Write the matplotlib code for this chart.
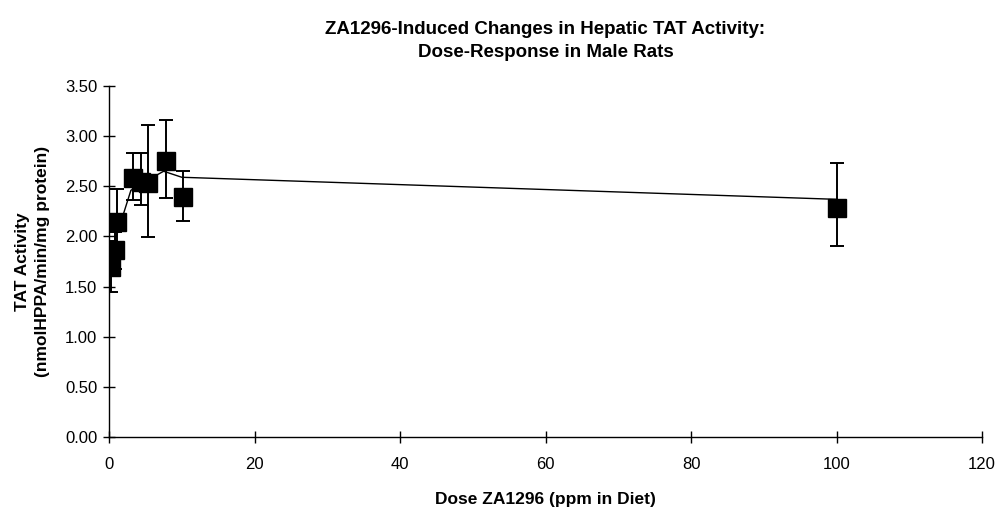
import matplotlib.pyplot as plt

plt.rcParams['font.family'] = ['Liberation Sans', 'DejaVu Sans']

# Group means with SD error bars
dose = [0.25, 0.8, 1.15, 3.3, 4.45, 5.35, 7.8, 10.2, 100]
tat_mean = [1.70, 1.86, 2.14, 2.58, 2.545, 2.53, 2.755, 2.39, 2.285]
tat_err_low = [0.25, 0.18, 0.33, 0.22, 0.235, 0.54, 0.375, 0.235, 0.385]
tat_err_high = [0.25, 0.18, 0.33, 0.255, 0.285, 0.58, 0.405, 0.26, 0.445]

# Connecting line through the dose groups
line_dose = [0, 0.5, 1, 3, 5, 7.5, 10, 100]
line_tat = [1.70, 1.86, 2.0, 2.46, 2.55, 2.65, 2.59, 2.37]

fig = plt.figure(figsize=(9.97, 5.12), dpi=100)
ax = fig.add_axes([0.1094, 0.1465, 0.8756, 0.6855])

ax.plot(line_dose, line_tat, color='black', lw=1.0, zorder=2)
ax.errorbar(dose, tat_mean, yerr=[tat_err_low, tat_err_high], fmt='none',
            ecolor='black', elinewidth=1.4, capsize=4.8, capthick=1.4, zorder=3)
ax.plot(dose, tat_mean, 's', color='black', markersize=12.5, zorder=4)

ax.set_xlim(0, 120)
ax.set_ylim(0, 3.5)
ax.set_xticks(range(0, 121, 20))
ax.set_yticks([i * 0.5 for i in range(8)])
ax.set_yticklabels(['%.2f' % (i * 0.5) for i in range(8)])

for side in ['top', 'right']:
    ax.spines[side].set_visible(False)
for side in ['left', 'bottom']:
    ax.spines[side].set_linewidth(1.0)

ax.tick_params(direction='inout', length=9, width=1.0, labelsize=12)
ax.tick_params(axis='x', pad=10)
ax.tick_params(axis='y', pad=4)

ax.set_xlabel('Dose ZA1296 (ppm in Diet)', fontsize=12.5, fontweight='bold', labelpad=14)
ax.set_ylabel('TAT Activity\n(nmolHPPA/min/mg protein)', fontsize=12.5,
              fontweight='bold', labelpad=11, linespacing=1.35)
ax.set_title('ZA1296-Induced Changes in Hepatic TAT Activity:\nDose-Response in Male Rats',
             fontsize=13.5, fontweight='bold', pad=21, linespacing=1.45)

fig.savefig('out.png', dpi=100)
